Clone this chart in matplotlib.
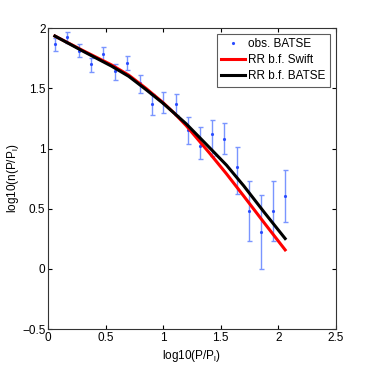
import numpy as np
import matplotlib.pyplot as plt

# observed BATSE points with error bars
obs_x = [0.058, 0.16, 0.267, 0.371, 0.478, 0.583, 0.687, 0.795, 0.899, 1.0,
         1.108, 1.215, 1.32, 1.427, 1.531, 1.638, 1.743, 1.85, 1.955, 2.062]
obs_y = [1.867, 1.925, 1.814, 1.70, 1.787, 1.645, 1.714, 1.548, 1.368, 1.376,
         1.368, 1.152, 1.024, 1.119, 1.082, 0.85, 0.481, 0.304, 0.481, 0.606]
err_hi = [1.917, 1.97, 1.867, 1.756, 1.84, 1.70, 1.773, 1.61, 1.454, 1.473,
          1.457, 1.265, 1.177, 1.24, 1.21, 1.013, 0.731, 0.611, 0.731, 0.822]
err_lo = [1.81, 1.875, 1.759, 1.634, 1.73, 1.573, 1.653, 1.462, 1.277, 1.296,
          1.282, 1.035, 0.913, 0.938, 0.958, 0.625, 0.232, -0.001, 0.232, 0.387]

# best-fit curves
batse_x = [0.058, 0.3, 0.55, 0.7, 0.85, 1.0, 1.1, 1.2, 1.4, 1.55, 1.7, 1.88, 2.06]
batse_y = [1.935, 1.81, 1.685, 1.60, 1.49, 1.375, 1.29, 1.205, 1.01, 0.862, 0.69, 0.468, 0.252]
swift_x = [0.058, 0.3, 0.55, 0.7, 0.85, 1.0, 1.1, 1.2, 1.4, 1.55, 1.7, 1.88, 2.06]
swift_y = [1.935, 1.815, 1.695, 1.61, 1.50, 1.38, 1.29, 1.19, 0.965, 0.79, 0.605, 0.38, 0.158]

plt.rcParams['font.family'] = ['Liberation Sans Narrow', 'Liberation Sans', 'DejaVu Sans']
plt.rcParams['mathtext.default'] = 'regular'

fig = plt.figure(figsize=(3.71, 3.71), dpi=100)
ax = fig.add_axes([0.130, 0.113, 0.775, 0.811])

obs_y = np.array(obs_y)
yerr = [obs_y - np.array(err_lo), np.array(err_hi) - obs_y]
ax.errorbar(obs_x, obs_y, yerr=yerr, fmt='none', ecolor='#7a95ff', elinewidth=1.0,
            capsize=1.8, capthick=1.0)
ax.plot(obs_x, obs_y, '.', color='#2a4cff', markersize=2.5, label='obs. BATSE')
ax.plot(swift_x, swift_y, color='#ff0000', lw=2.2, label='RR b.f. Swift')
ax.plot(batse_x, batse_y, color='black', lw=2.2, label='RR b.f. BATSE')

ax.set_xlim(0, 2.5)
ax.set_ylim(-0.5, 2)
ax.set_xticks([0, 0.5, 1, 1.5, 2, 2.5])
ax.set_xticklabels(['0', '0.5', '1', '1.5', '2', '2.5'])
ax.set_yticks([-0.5, 0, 0.5, 1, 1.5, 2])
ax.set_yticklabels(['\u22120.5', '0', '0.5', '1', '1.5', '2'])
ax.tick_params(direction='in', top=True, right=True, labelsize=8.5, length=3, pad=2)
for s in ax.spines.values():
    s.set_linewidth(0.8)
    s.set_color('#333333')

ax.set_xlabel('log10(P/P$_l$)', fontsize=8.5, labelpad=3)
ax.set_ylabel('log10(n(P/P$_l$)', fontsize=8.5, labelpad=1)

leg = ax.legend(loc='upper right', fontsize=8.5, frameon=True, fancybox=False,
                edgecolor='#333333', borderaxespad=0.5, handlelength=2.0,
                handletextpad=0.3, labelspacing=0.35, borderpad=0.35)
leg.get_frame().set_linewidth(0.8)

fig.savefig('out.png', dpi=100)
